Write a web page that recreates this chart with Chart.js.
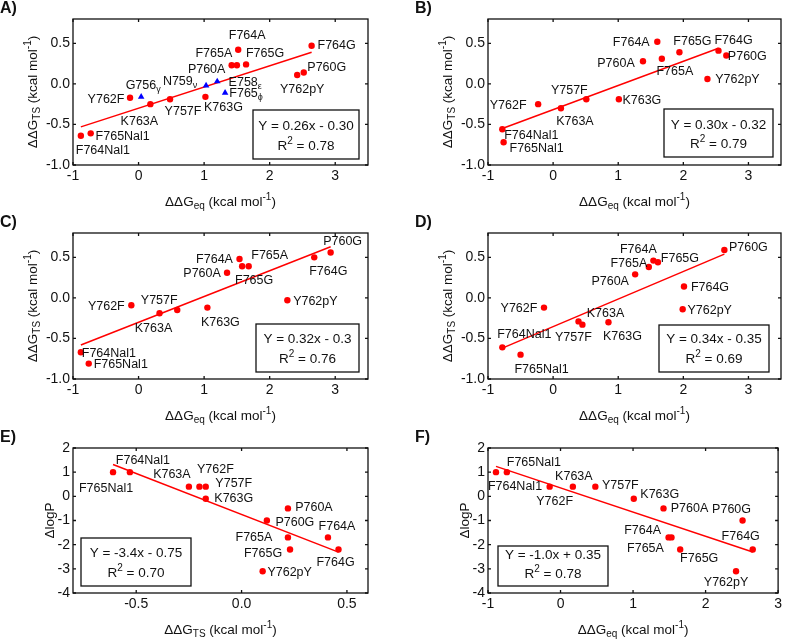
<!DOCTYPE html>
<html><head><meta charset="utf-8">
<script src="https://cdn.jsdelivr.net/npm/chart.js@4.4.1/dist/chart.umd.min.js"></script>
<style>
html,body{margin:0;padding:0;background:#fff;width:785px;height:641px;overflow:hidden;position:relative}
canvas{position:absolute}
</style></head><body>
<canvas id="cA"></canvas><canvas id="cB"></canvas><canvas id="cC"></canvas>
<canvas id="cD"></canvas><canvas id="cE"></canvas><canvas id="cF"></canvas>
<script>
// ---------------- DATA ----------------
const mutants = ['F764Nal1','F765Nal1','Y762F','K763A','Y757F','K763G','P760A','F765A','F765G','F764A','F764G','P760G','Y762pY'];

// Panel A: ddG_TS vs ddG_eq
const xA = [-0.88,-0.73,-0.13,0.18,0.48,1.02,1.42,1.50,1.64,1.52,2.64,2.52,2.42];
const yA = [-0.64,-0.61,-0.17,-0.25,-0.19,-0.16,0.23,0.23,0.24,0.42,0.47,0.14,0.11];
const blueNames = ['G756','N759','E758','F765'];
const blueSubs = ['\u03B3','\u03BD','\u03B5','\u03D5'];
const xAblue = [0.04,1.03,1.20,1.32];
const yAblue = [-0.16,-0.02,0.03,-0.11];
const fitAx = [-0.88,2.64];
const fitAy = [-0.53,0.39];
const eqA = 'Y = 0.26x - 0.30', r2A = '0.78';

// Panel B
const xB = [-0.78,-0.76,-0.23,0.12,0.51,1.01,1.38,1.67,1.94,1.60,2.54,2.66,2.37];
const yB = [-0.56,-0.72,-0.25,-0.30,-0.19,-0.19,0.28,0.31,0.39,0.52,0.41,0.35,0.06];
const fitBx = [-0.78,2.54];
const fitBy = [-0.55,0.44];
const eqB = 'Y = 0.30x - 0.32', r2B = '0.79';

// Panel C
const xC = [-0.88,-0.76,-0.11,0.32,0.59,1.05,1.35,1.68,1.58,1.54,2.68,2.93,2.27];
const yC = [-0.67,-0.81,-0.09,-0.19,-0.15,-0.12,0.31,0.39,0.39,0.48,0.50,0.56,-0.03];
const fitCx = [-0.88,2.93];
const fitCy = [-0.58,0.63];
const eqC = 'Y = 0.32x - 0.3', r2C = '0.76';

// Panel D
const xD = [-0.78,-0.50,-0.14,0.39,0.45,0.85,1.26,1.47,1.61,1.54,2.01,2.63,1.99];
const yD = [-0.61,-0.70,-0.12,-0.29,-0.33,-0.30,0.29,0.38,0.44,0.46,0.14,0.59,-0.14];
const fitDx = [-0.78,2.63];
const fitDy = [-0.62,0.54];
const eqD = 'Y = 0.34x - 0.35', r2D = '0.69';

// Panel E: dlogP vs ddG_TS
const xE = [-0.53,-0.61,-0.20,-0.25,-0.17,-0.17,0.22,0.22,0.23,0.41,0.46,0.12,0.10];
const yE = [1.0,1.0,0.4,0.4,0.4,-0.1,-0.5,-1.7,-2.2,-1.7,-2.2,-1.0,-3.1];
const fitEx = [-0.61,0.46];
const fitEy = [1.32,-2.31];
const eqE = 'Y = -3.4x - 0.75', r2E = '0.70';

// Panel F: dlogP vs ddG_eq
const xF = [-0.89,-0.74,-0.15,0.17,0.48,1.01,1.42,1.53,1.65,1.49,2.65,2.51,2.42];
const yF = [1.0,1.0,0.4,0.4,0.4,-0.1,-0.5,-1.7,-2.2,-1.7,-2.2,-1.0,-3.1];
const fitFx = [-0.89,2.65];
const fitFy = [1.24,-2.30];
const eqF = 'Y = -1.0x + 0.35', r2F = '0.78';

// Axis tick settings
const xTicksEq = {min:-1, max:3.5, step:1, dec:0};
const xTicksEqF = {min:-1, max:3, step:1, dec:0};
const xTicksTS = {min:-0.8, max:0.6, step:0.5, dec:1};
const yTicksTS = {min:-1, max:0.8, step:0.5, dec:1};
const yTicksLogP = {min:-4, max:2, step:1, dec:0};

// ---------------- LAYOUT / STYLE ----------------
const FAM = '"Liberation Sans", Arial, Helvetica, sans-serif';
const TXT = '#111';
const RED = '#ff0000', BLUE = '#0000ff';

// label offsets (px), same order as mutants
const offA = [[22,15],[32,3],[-24,2],[-11,17],[13,12],[18,11],[-25,4],[-23,-12],[19,-11],[9,-14],[25,0],[23,-5],[5,15]];
const offAblue = [[2,-11],[-26,-4],[28,1],[21,1]];
const offB = [[29,6],[33,6],[-30,1],[14,13],[-17,-9],[23,1],[-27,2],[13,13],[13,-11],[-26,1],[15,-10],[21,1],[30,1]];
const offC = [[28,1],[32,1],[-25,1],[-6,15],[-18,-10],[13,15],[-25,1],[21,-11],[12,14],[-25,1],[14,14],[12,-11],[28,1]];
const offD = [[22,-13],[21,15],[-25,1],[27,-8],[-9,13],[14,14],[-25,7],[-20,-4],[22,-4],[-15,-11],[26,1],[24,-2],[27,1]];
const offE = [[13,-12],[-7,16],[16,-17],[-17,-12],[28,-3],[28,0],[26,-1],[-34,0],[-27,4],[9,-11],[-3,13],[28,2],[27,1]];
const offF = [[19,14],[27,-10],[5,15],[1,-10],[25,-1],[26,-4],[26,0],[-26,11],[19,9],[-26,-7],[-12,-13],[-11,-11],[-10,11]];

const titleEq = [['\u0394\u0394G','n'],['eq','sub'],[' (kcal mol','n'],['-1','sup'],[')','n']];
const titleTS = [['\u0394\u0394G','n'],['TS','sub'],[' (kcal mol','n'],['-1','sup'],[')','n']];
const titleLogP = [['\u0394logP','n']];

const panels = [
 {id:'cA', letter:'A)', cv:{x:0,y:0,w:392,h:215}, fr:{L:73,T:19,R:368,B:165},
  xs:xTicksEq, ys:yTicksTS, xt:titleEq, yt:titleTS, ytOff:40,
  sets:[{x:xA,y:yA,names:mutants,off:offA}], blue:{x:xAblue,y:yAblue,names:blueNames,subs:blueSubs,off:offAblue},
  fit:[fitAx,fitAy], eq:eqA, r2:r2A, box:{x:253,y:110,w:106,h:49,l1:16,l2:36}},
 {id:'cB', letter:'B)', cv:{x:392,y:0,w:393,h:215}, fr:{L:488,T:19,R:782,B:165},
  xs:xTicksEq, ys:yTicksTS, xt:titleEq, yt:titleTS, ytOff:40,
  sets:[{x:xB,y:yB,names:mutants,off:offB}],
  fit:[fitBx,fitBy], eq:eqB, r2:r2B, box:{x:664,y:109,w:109,h:48,l1:16,l2:35}},
 {id:'cC', letter:'C)', cv:{x:0,y:214,w:392,h:214}, fr:{L:73,T:233,R:368,B:379},
  xs:xTicksEq, ys:yTicksTS, xt:titleEq, yt:titleTS, ytOff:40,
  sets:[{x:xC,y:yC,names:mutants,off:offC}],
  fit:[fitCx,fitCy], eq:eqC, r2:r2C, box:{x:256,y:324,w:103,h:48,l1:15,l2:35}},
 {id:'cD', letter:'D)', cv:{x:392,y:214,w:393,h:214}, fr:{L:488,T:233,R:782,B:379},
  xs:xTicksEq, ys:yTicksTS, xt:titleEq, yt:titleTS, ytOff:40,
  sets:[{x:xD,y:yD,names:mutants,off:offD}],
  fit:[fitDx,fitDy], eq:eqD, r2:r2D, box:{x:659,y:325,w:110,h:47,l1:14,l2:34}},
 {id:'cE', letter:'E)', cv:{x:0,y:428,w:392,h:213}, fr:{L:73,T:448,R:368,B:593},
  xs:xTicksTS, ys:yTicksLogP, xt:titleTS, yt:titleLogP, ytOff:23,
  sets:[{x:xE,y:yE,names:mutants,off:offE}],
  fit:[fitEx,fitEy], eq:eqE, r2:r2E, box:{x:81,y:538,w:110,h:48,l1:15,l2:35}},
 {id:'cF', letter:'F)', cv:{x:392,y:428,w:393,h:213}, fr:{L:488,T:448,R:782,B:593},
  xs:xTicksEqF, ys:yTicksLogP, xt:titleEq, yt:titleLogP, ytOff:23,
  sets:[{x:xF,y:yF,names:mutants,off:offF}],
  fit:[fitFx,fitFy], eq:eqF, r2:r2F, box:{x:498,y:546,w:110,h:40,l1:9,l2:28}}
];

// ---------------- HELPERS ----------------
function partFont(kind, size){ return (kind==='n'?size:Math.round(size*0.72)) + 'px ' + FAM; }
function richWidth(ctx, parts, size){
  let w=0; for(const [t,k] of parts){ ctx.font=partFont(k,size); w+=ctx.measureText(t).width; } return w;
}
function drawRich(ctx, parts, cx, cy, size){
  const w = richWidth(ctx, parts, size);
  let x = cx - w/2;
  ctx.textAlign='left'; ctx.textBaseline='middle';
  for(const [t,k] of parts){
    ctx.font=partFont(k,size);
    const dy = k==='sub'? size*0.32 : (k==='sup'? -size*0.38 : 0);
    ctx.fillText(t, x, cy+dy);
    x += ctx.measureText(t).width;
  }
}

const decor = {
  id:'decor',
  afterDraw(chart){
    const p = chart.options.plugins.decor.panel;
    const ctx = chart.ctx, a = chart.chartArea;
    const ox = p.cv.x, oy = p.cv.y;
    ctx.save();
    ctx.fillStyle = TXT;
    // point labels
    const lab = (set, dsIndex, subs) => {
      const meta = chart.getDatasetMeta(dsIndex);
      meta.data.forEach((el,i)=>{
        const [dx,dy] = set.off[i];
        const parts = subs ? [[set.names[i],'n'],[set.subs[i],'sub']] : [[set.names[i],'n']];
        drawRich(ctx, parts, el.x+dx, el.y+dy, 12.5);
      });
    };
    lab(p.sets[0], 0, false);
    if (p.blue) lab(p.blue, 1, true);
    // equation box
    const b = p.box;
    const bx = b.x-ox, by = b.y-oy;
    ctx.fillStyle='#fff'; ctx.fillRect(bx,by,b.w,b.h);
    ctx.strokeStyle='#111'; ctx.lineWidth=1.3; ctx.strokeRect(bx,by,b.w,b.h);
    ctx.fillStyle=TXT;
    drawRich(ctx, [[p.eq,'n']], bx+b.w/2, by+b.l1, 13.5);
    drawRich(ctx, [['R','n'],['2','sup'],[' = '+p.r2,'n']], bx+b.w/2, by+b.l2, 13.5);
    // frame
    ctx.strokeStyle='#111'; ctx.lineWidth=1.3;
    ctx.strokeRect(a.left, a.top, a.right-a.left, a.bottom-a.top);
    // inward ticks on all sides
    const tl = 3;
    const xs = chart.scales.x, ys = chart.scales.y;
    ctx.beginPath();
    xs.ticks.forEach(t=>{ const px = xs.getPixelForValue(t.value);
      ctx.moveTo(px,a.bottom); ctx.lineTo(px,a.bottom-tl);
      ctx.moveTo(px,a.top); ctx.lineTo(px,a.top+tl); });
    ys.ticks.forEach(t=>{ const py = ys.getPixelForValue(t.value);
      ctx.moveTo(a.left,py); ctx.lineTo(a.left+tl,py);
      ctx.moveTo(a.right,py); ctx.lineTo(a.right-tl,py); });
    ctx.stroke();
    // axis titles
    ctx.fillStyle=TXT;
    drawRich(ctx, p.xt, (a.left+a.right)/2, a.bottom+37, 13.5);
    ctx.save();
    ctx.translate(a.left-p.ytOff, (a.top+a.bottom)/2);
    ctx.rotate(-Math.PI/2);
    drawRich(ctx, p.yt, 0, 0, 13.5);
    ctx.restore();
    // panel letter
    ctx.font = 'bold 16px ' + FAM;
    ctx.textAlign='left'; ctx.textBaseline='middle';
    ctx.fillText(p.letter, a.left-73, a.top-10);
    ctx.restore();
  }
};

function fmt(dec){ return v => Number(v).toFixed(dec); }

panels.forEach(p=>{
  const cv = document.getElementById(p.id);
  cv.width = p.cv.w; cv.height = p.cv.h;
  cv.style.left = p.cv.x+'px'; cv.style.top = p.cv.y+'px';
  cv.style.width = p.cv.w+'px'; cv.style.height = p.cv.h+'px';
  const fr = p.fr;
  const datasets = [{
    data: p.sets[0].x.map((x,i)=>({x, y:p.sets[0].y[i]})),
    pointRadius:3.2, pointBackgroundColor:RED, pointBorderWidth:0, borderColor:RED, showLine:false
  }];
  if (p.blue) datasets.push({
    data: p.blue.x.map((x,i)=>({x, y:p.blue.y[i]})),
    pointStyle:'triangle', pointRadius:3.8, pointBackgroundColor:BLUE, pointBorderWidth:0, borderColor:BLUE, showLine:false
  });
  datasets.push({
    data: p.fit[0].map((x,i)=>({x, y:p.fit[1][i]})),
    showLine:true, borderColor:RED, borderWidth:1.5, pointRadius:0, fill:false
  });
  const tickFont = {family:FAM, size:14};
  new Chart(cv, {
    type:'scatter',
    data:{datasets},
    options:{
      responsive:false, animation:false, devicePixelRatio:1,
      events:[],
      layout:{padding:{top:fr.T-p.cv.y, right:p.cv.x+p.cv.w-fr.R, bottom:0, left:0}},
      plugins:{legend:{display:false}, tooltip:{enabled:false}, decor:{panel:p}},
      scales:{
        x:{type:'linear', min:p.xs.min, max:p.xs.max,
           grid:{display:false, drawTicks:false, tickLength:0}, border:{display:false},
           ticks:{stepSize:p.xs.step, includeBounds:false, autoSkip:false, maxRotation:0,
                  font:tickFont, color:TXT, padding:3, callback:fmt(p.xs.dec)},
           afterFit:s=>{ s.height = p.cv.y+p.cv.h-fr.B; }},
        y:{type:'linear', min:p.ys.min, max:p.ys.max,
           grid:{display:false, drawTicks:false, tickLength:0}, border:{display:false},
           ticks:{stepSize:p.ys.step, includeBounds:false, autoSkip:false,
                  font:tickFont, color:TXT, padding:3, callback:fmt(p.ys.dec)},
           afterFit:s=>{ s.width = fr.L-p.cv.x; }}
      }
    },
    plugins:[decor]
  });
});
</script>
</body></html>
